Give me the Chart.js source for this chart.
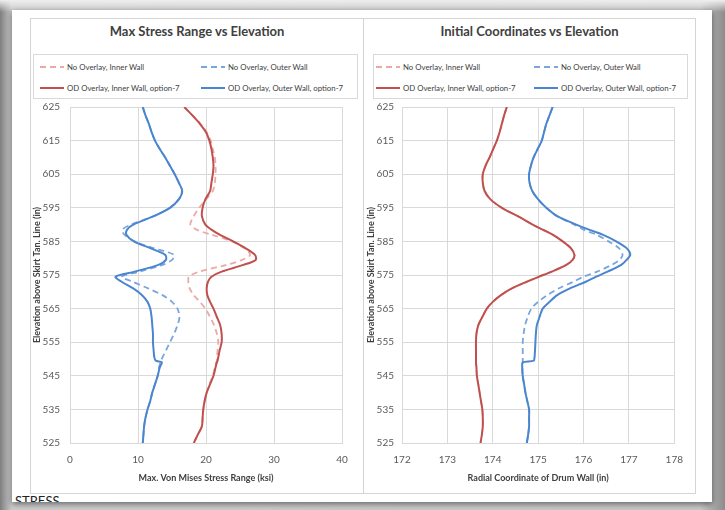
<!DOCTYPE html>
<html>
<head>
<meta charset="utf-8">
<script src="https://cdn.jsdelivr.net/npm/chart.js@4.4.0/dist/chart.umd.min.js"></script>
<style>
  html, body { margin: 0; padding: 0; }
  body {
    width: 725px; height: 510px; overflow: hidden; position: relative;
    font-family: Lato, "Noto Sans", sans-serif;
    background:
      linear-gradient(to bottom, rgba(238,238,238,1) 0, rgba(238,238,238,0) 12px),
      linear-gradient(to right, #7e7e7e 0, #cdcdcd 12px, #c8c8c8 700px, #8c8c8c 725px);
  }
  #card {
    position: absolute; left: 12px; top: 10px; width: 700px; height: 492px;
    background: #fff; box-shadow: 0 2px 6px rgba(0,0,0,.5); overflow: hidden;
  }
  #stress { position: absolute; left: 3px; top: 483px; font-size: 13px; color: #222; }
  .panel { position: absolute; top: 18px; height: 476px; border: 1px solid #d4d4d4; box-sizing: border-box; background: #fff; }
  .title { position: absolute; top: 23px; font-size: 13px; font-weight: bold; color: #404040; text-align: center; }
  .legend { position: absolute; top: 54px; height: 45px; border: 1px solid #d9d9d9; box-sizing: border-box; }
  .item { position: absolute; font-size: 7.8px; color: #404040; white-space: nowrap; line-height: 10px; }
  .item svg { position: absolute; top: 0; }
  canvas { position: absolute; }
</style>
</head>
<body>
<div id="card"><div id="stress">STRESS</div></div>
<div class="panel" style="left:30px;width:334px"></div>
<div class="panel" style="left:363px;width:333px"></div>
<div class="title" style="left:30px;width:334px">Max Stress Range vs Elevation</div>
<div class="title" style="left:363px;width:333px">Initial Coordinates vs Elevation</div>
<div class="legend" id="legL" style="left:33px;width:325px"></div>
<div class="legend" id="legR" style="left:373px;width:315px"></div>
<canvas id="stressChart" width="331" height="473" style="left:31px;top:19px"></canvas>
<canvas id="coordChart" width="330" height="473" style="left:364px;top:19px"></canvas>
<script>
// elevation above skirt tangent line (in), shared by every series
const elevations = [625, 622.5, 620, 617.5, 615, 612.5, 610, 607.5, 605, 602.5, 600, 597.5, 595, 592.5, 590, 588.5, 587, 585, 583, 581, 579.5, 578, 576, 574.5, 573, 571, 569, 567, 565, 562.5, 560, 557.5, 555, 552.5, 550.5, 549.5, 549, 547.5, 545, 542.5, 540, 537.5, 535, 532.5, 530, 527.5, 525];

// max von mises stress range (ksi)
const stressInnerNo = [16.8, 18.0, 19.2, 20.1, 20.7, 21.0, 21.3, 21.4, 21.4, 21.3, 21.0, 20.0, 19.0, 18.2, 17.7, 18.6, 20.8, 23.8, 25.6, 26.5, 25.3, 23.0, 19.0, 17.5, 17.4, 17.6, 18.2, 19.1, 19.9, 20.6, 21.2, 21.6, 21.8, 21.7, 21.6, 21.6, 21.5, 21.3, 21.0, 20.5, 20.1, 19.8, 19.6, 19.5, 19.4, 18.8, 18.2];
const stressOuterNo = [10.7, 11.1, 11.6, 12.0, 12.5, 13.2, 14.0, 14.7, 15.4, 16.0, 16.5, 16.0, 14.7, 12.3, 9.0, 7.7, 8.0, 9.5, 12.3, 15.3, 15.0, 13.6, 10.2, 7.6, 9.2, 11.5, 13.6, 15.0, 15.8, 16.1, 15.8, 15.3, 14.7, 14.1, 13.6, 13.4, 13.3, 13.1, 12.9, 12.5, 12.1, 11.8, 11.4, 11.1, 10.9, 10.8, 10.7];
const stressInnerOd = [16.8, 18.0, 19.1, 20.0, 20.5, 20.8, 21.0, 21.1, 21.0, 20.8, 20.6, 19.9, 19.5, 19.4, 19.9, 20.8, 22.0, 24.0, 25.8, 27.2, 27.3, 25.5, 22.3, 20.8, 20.3, 20.1, 20.2, 20.6, 21.1, 21.6, 22.1, 22.3, 22.3, 22.0, 21.8, 21.7, 21.6, 21.4, 21.1, 20.6, 20.1, 19.8, 19.6, 19.5, 19.4, 18.8, 18.2];
const stressOuterOd = [10.7, 11.1, 11.6, 12.0, 12.5, 13.2, 14.0, 14.7, 15.4, 16.0, 16.5, 16.0, 14.7, 12.3, 9.3, 8.4, 8.3, 9.4, 11.8, 14.0, 14.1, 13.0, 9.5, 6.7, 7.6, 9.3, 10.6, 11.4, 11.8, 12.0, 12.1, 12.2, 12.2, 12.3, 12.4, 12.6, 13.5, 13.2, 12.9, 12.5, 12.1, 11.8, 11.4, 11.1, 10.9, 10.8, 10.7];

// radial coordinate of drum wall (in)
const radialInnerNo = [174.31, 174.25, 174.2, 174.15, 174.09, 174.01, 173.93, 173.84, 173.78, 173.78, 173.82, 173.95, 174.2, 174.55, 174.88, 175.1, 175.32, 175.54, 175.72, 175.8, 175.76, 175.62, 175.3, 175.02, 174.75, 174.42, 174.18, 174.0, 173.87, 173.77, 173.68, 173.64, 173.63, 173.63, 173.63, 173.63, 173.63, 173.64, 173.65, 173.68, 173.71, 173.74, 173.77, 173.78, 173.78, 173.76, 173.73];
const radialOuterNo = [175.32, 175.25, 175.18, 175.13, 175.08, 174.99, 174.9, 174.84, 174.8, 174.81, 174.87, 175.0, 175.18, 175.42, 175.8, 176.0, 176.28, 176.55, 176.78, 176.86, 176.79, 176.62, 176.3, 176.0, 175.78, 175.45, 175.2, 175.0, 174.85, 174.77, 174.71, 174.68, 174.66, 174.66, 174.66, 174.66, 174.66, 174.65, 174.66, 174.69, 174.72, 174.76, 174.8, 174.8, 174.8, 174.78, 174.75];
const radialInnerOd = [174.31, 174.25, 174.2, 174.15, 174.09, 174.01, 173.93, 173.84, 173.78, 173.78, 173.82, 173.95, 174.2, 174.55, 174.88, 175.1, 175.32, 175.54, 175.72, 175.8, 175.76, 175.62, 175.3, 175.02, 174.75, 174.42, 174.18, 174.0, 173.87, 173.77, 173.68, 173.64, 173.63, 173.63, 173.63, 173.63, 173.63, 173.64, 173.65, 173.68, 173.71, 173.74, 173.77, 173.78, 173.78, 173.76, 173.73];
const radialOuterOd = [175.32, 175.25, 175.18, 175.13, 175.08, 174.99, 174.9, 174.84, 174.8, 174.81, 174.87, 175.0, 175.18, 175.42, 175.84, 176.12, 176.42, 176.72, 176.95, 177.03, 176.95, 176.83, 176.53, 176.28, 176.05, 175.7, 175.42, 175.25, 175.1, 175.03, 174.97, 174.95, 174.94, 174.93, 174.92, 174.9, 174.66, 174.65, 174.66, 174.69, 174.72, 174.76, 174.8, 174.8, 174.8, 174.78, 174.75];

const seriesLabels = ['No Overlay, Inner Wall', 'No Overlay, Outer Wall', 'OD Overlay, Inner Wall, option-7', 'OD Overlay, Outer Wall, option-7'];
const elevationTicks = [525, 535, 545, 555, 565, 575, 585, 595, 605, 615, 625];
const stressTicks = [0, 10, 20, 30, 40];
const radialTicks = [172, 173, 174, 175, 176, 177, 178];

const RED = '#c0504d', BLUE = '#4a85cf';
const RED_LIGHT = '#eba9a8', BLUE_LIGHT = '#7aa6de';
const styles = [
  { color: RED_LIGHT, dash: [6, 4], width: 1.8, order: 2 },
  { color: BLUE_LIGHT, dash: [6, 4], width: 1.8, order: 2 },
  { color: RED, dash: [], width: 2, order: 1 },
  { color: BLUE, dash: [], width: 2, order: 1 }
];

const pts = vals => vals.map((v, i) => ({ x: v, y: elevations[i] }));
const makeSets = list => list.map((vals, i) => ({
  label: seriesLabels[i],
  data: pts(vals),
  showLine: true,
  borderColor: styles[i].color,
  backgroundColor: styles[i].color,
  borderDash: styles[i].dash,
  borderWidth: styles[i].width,
  order: styles[i].order,
  pointRadius: 0,
  tension: 0.3
}));

Chart.defaults.font.family = 'Lato, "Noto Sans", sans-serif';
Chart.defaults.color = '#595959';

const GRID = '#d9d9d9';
function makeChart(id, sets, xTicks, xTitle, yWidth, yPad, yTitlePad, rightPad) {
  return new Chart(document.getElementById(id), {
    type: 'scatter',
    data: { datasets: sets },
    options: {
      responsive: false,
      animation: false,
      events: [],
      layout: { padding: { top: 88, right: rightPad, bottom: 9, left: 0 } },
      plugins: { legend: { display: false }, tooltip: { enabled: false } },
      scales: {
        x: {
          type: 'linear',
          min: xTicks[0], max: xTicks[xTicks.length - 1],
          afterBuildTicks: s => { s.ticks = xTicks.map(v => ({ value: v })); },
          afterFit: s => { s.height = 40; },
          grid: { color: GRID, drawTicks: false },
          border: { color: GRID },
          ticks: { padding: 11, font: { size: 10 } },
          title: { display: true, text: xTitle, color: '#404040', font: { size: 9, weight: 'bold' }, padding: 0 }
        },
        y: {
          type: 'linear',
          min: elevationTicks[0], max: elevationTicks[elevationTicks.length - 1],
          afterBuildTicks: s => { s.ticks = elevationTicks.map(v => ({ value: v })); },
          afterFit: s => { s.width = yWidth; },
          grid: { color: GRID, drawTicks: false },
          border: { color: GRID },
          ticks: { padding: yPad, font: { size: 10 } },
          title: { display: true, text: 'Elevation above Skirt Tan. Line (in)', color: '#404040', font: { size: 9, weight: 'bold' }, padding: { top: yTitlePad, bottom: 0 } }
        }
      }
    }
  });
}

makeChart('stressChart', makeSets([stressInnerNo, stressOuterNo, stressInnerOd, stressOuterOd]),
  stressTicks, 'Max. Von Mises Stress Range (ksi)', 39, 10, 1, 20);
makeChart('coordChart', makeSets([radialInnerNo, radialOuterNo, radialInnerOd, radialOuterOd]),
  radialTicks, 'Radial Coordinate of Drum Wall (in)', 38, 8, 2, 19);

// legend boxes, two columns by two rows like the spreadsheet
function buildLegend(id, col1, col2) {
  const box = document.getElementById(id);
  seriesLabels.forEach((lab, i) => {
    const st = styles[i];
    const it = document.createElement('div');
    it.className = 'item';
    const left = i % 2 === 0 ? col1 : col2;
    it.style.left = left + 'px';
    it.style.top = (i < 2 ? 7 : 28) + 'px';
    it.style.paddingLeft = '27px';
    it.innerHTML = '<svg width="24" height="10" style="left:0"><line x1="0" y1="5" x2="24" y2="5" stroke="' + st.color +
      '" stroke-width="' + st.width + '" stroke-dasharray="' + (st.dash.length ? st.dash.join(',') : 'none') + '"/></svg>' + lab;
    box.appendChild(it);
  });
}
buildLegend('legL', 6, 167);
buildLegend('legR', 2, 160);
</script>
</body>
</html>
